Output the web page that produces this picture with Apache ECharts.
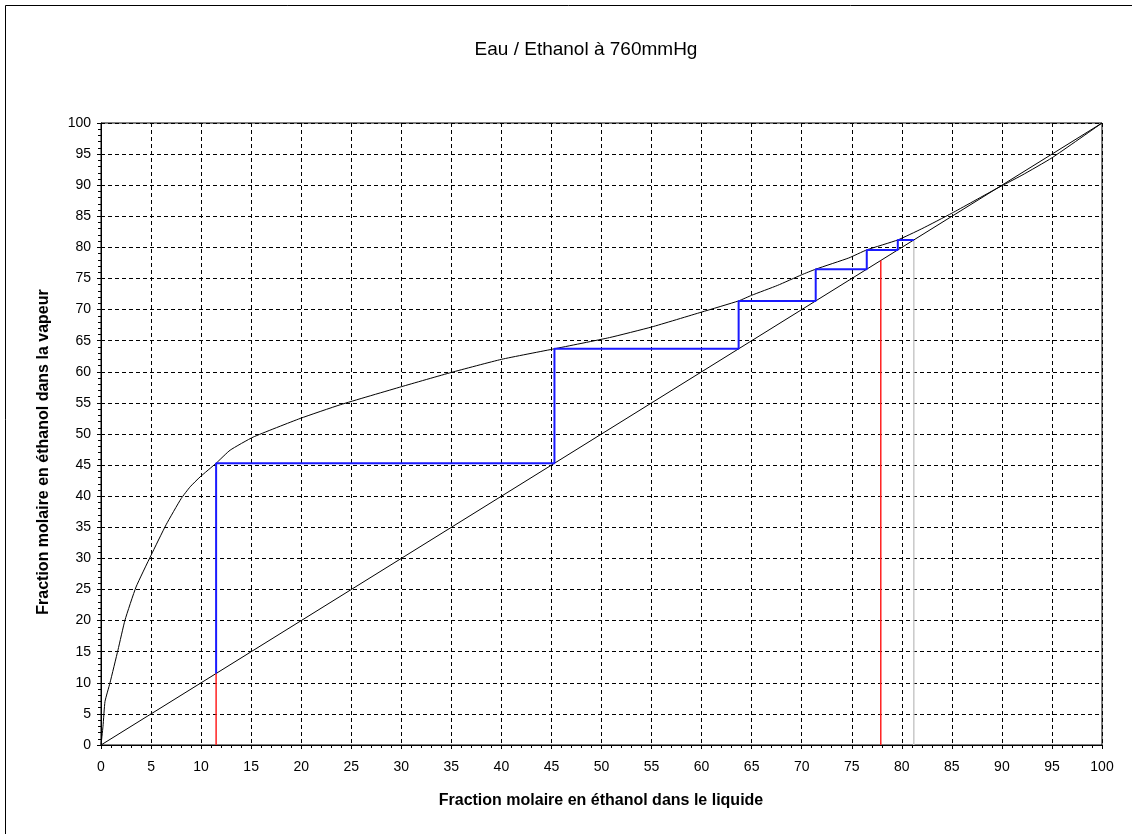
<!DOCTYPE html>
<html>
<head>
<meta charset="utf-8">
<script src="https://cdn.jsdelivr.net/npm/echarts@6/dist/echarts.min.js"></script>
<style>
html,body{margin:0;padding:0;background:#fff;}
#chart{width:1132px;height:834px;}
</style>
</head>
<body>
<div id="chart"></div>
<script>
// Equilibrium curve (liquid x, vapour y), mol % ethanol
const eqX = [0, 0.2, 0.4, 0.9, 1.7, 2.4, 3.5, 5.0, 6.5, 8.0, 8.9, 9.9, 11.5, 12.9, 15.2, 19.9, 23.9, 30, 35, 40, 45.3, 50.8, 55, 60, 63.7, 65, 67.6, 70, 71.4, 74.7, 76.5, 79.6, 82, 85, 89.4, 92, 95, 100];
const eqY = [0, 3.0, 7.0, 10.0, 15.3, 20.1, 25.4, 30.5, 35.4, 39.6, 41.5, 43.1, 45.3, 47.4, 49.5, 52.5, 54.7, 57.6, 59.9, 62.0, 63.7, 65.5, 67.2, 69.6, 71.4, 72.3, 73.9, 75.6, 76.5, 78.3, 79.6, 81.2, 83.0, 85.5, 89.4, 91.6, 94.4, 100];
// Diagonal y = x
const diagX = [0, 100];
const diagY = [0, 100];
// McCabe-Thiele stages: liquid composition at each step and vapour composition reached
const stageX = [11.5, 45.3, 63.7, 71.4, 76.5, 79.6];
const stageY = [45.3, 63.7, 71.4, 76.5, 79.6, 81.2];
// Feed / distillate markers (red) and azeotrope-limit marker (grey)
const redX = [11.5, 77.9];
const greyX = [81.2];

const title = "Eau / Ethanol à 760mmHg";
const xName = "Fraction molaire en éthanol dans le liquide";
const yName = "Fraction molaire en éthanol dans la vapeur";

const zip = (a, b) => a.map((v, i) => [v, b[i]]);
const stairs = [[stageX[0], stageX[0]]];
stageX.forEach((x, i) => { stairs.push([x, stageY[i]]); stairs.push([stageY[i], stageY[i]]); });

const FONT = "Liberation Sans, Arial, sans-serif";
const series = [
  {type:'line', data: zip(eqX, eqY), symbol:'none', smooth:0.15, lineStyle:{color:'#000', width:1}, z:3},
  {type:'line', data: zip(diagX, diagY), symbol:'none', lineStyle:{color:'#000', width:1}, z:3}
];
redX.forEach(x => series.push({type:'line', data:[[x,0],[x,x]], symbol:'none', lineStyle:{color:'#ff2020', width:1.5}, z:4}));
greyX.forEach(x => series.push({type:'line', data:[[x,0],[x,x]], symbol:'none', lineStyle:{color:'#c8c8c8', width:1.5}, z:2}));
series.push({type:'line', data: stairs, symbol:'none', lineStyle:{color:'#1a1aff', width:2}, z:5});

const axisCommon = {
  type:'value', min:0, max:100, interval:5,
  axisLine:{show:true, onZero:false, lineStyle:{color:'#000', width:1}},
  axisTick:{show:true, inside:false, length:4, lineStyle:{color:'#000'}},
  minorTick:{show:true, splitNumber:5, length:3, lineStyle:{color:'#000'}},
  splitLine:{show:true, lineStyle:{color:'#000', width:1, type:[4,3]}},
  axisLabel:{color:'#000', fontSize:14, fontFamily:FONT}
};

const chart = echarts.init(document.getElementById('chart'), null, {renderer:'canvas'});
chart.setOption({
  animation:false,
  backgroundColor:'#fff',
  grid:{left:101, top:123, width:1001, height:622, show:true, borderColor:'#000', borderWidth:1, backgroundColor:'transparent'},
  xAxis: Object.assign({}, axisCommon, {axisLabel:Object.assign({}, axisCommon.axisLabel, {margin:15})}),
  yAxis: Object.assign({}, axisCommon, {axisLabel:Object.assign({}, axisCommon.axisLabel, {margin:10})}),
  graphic:[
    {type:'line', shape:{x1:5.5, y1:5.5, x2:1132, y2:5.5}, style:{stroke:'#000', lineWidth:1}},
    {type:'line', shape:{x1:5.5, y1:5.5, x2:5.5, y2:834}, style:{stroke:'#000', lineWidth:1}},
    {type:'text', x:586, y:50, style:{text:title, font:'19px ' + FONT, fill:'#000', align:'center', verticalAlign:'middle'}},
    {type:'text', x:601, y:801, style:{text:xName, font:'bold 16px ' + FONT, fill:'#000', align:'center', verticalAlign:'middle'}},
    {type:'text', x:44, y:452, rotation:Math.PI/2, style:{text:yName, font:'bold 16px ' + FONT, fill:'#000', align:'center', verticalAlign:'middle'}}
  ],
  series: series
});
</script>
</body>
</html>
